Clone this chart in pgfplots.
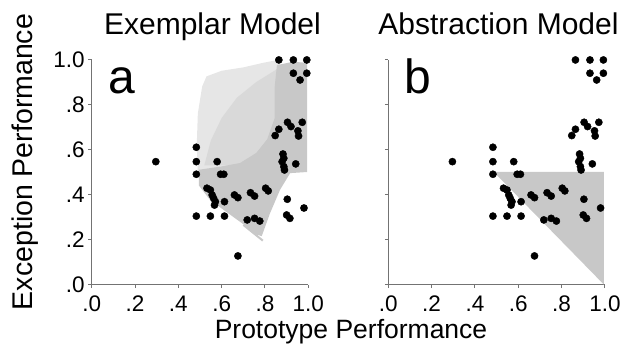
\documentclass[border=0pt]{standalone}
\usepackage{pgfplots}
\pgfplotsset{compat=1.18}
\usepackage{pgfplotstable}
\usepackage{fontspec}
\setmainfont{Liberation Sans}
\definecolor{dense}{RGB}{200,200,200}
\definecolor{medium}{RGB}{217,217,217}
\definecolor{sparse}{RGB}{230,230,230}
\definecolor{axgray}{RGB}{115,115,115}

\pgfplotstableread{
x y
0.296 0.546
0.483 0.610
0.483 0.546
0.579 0.546
0.483 0.490
0.595 0.490
0.610 0.490
0.532 0.428
0.548 0.420
0.556 0.398
0.563 0.383
0.571 0.368
0.567 0.353
0.613 0.368
0.659 0.398
0.675 0.386
0.483 0.304
0.548 0.304
0.613 0.304
0.675 0.127
0.733 0.408
0.752 0.393
0.803 0.428
0.815 0.416
0.903 0.379
0.980 0.340
0.900 0.309
0.915 0.294
0.718 0.287
0.752 0.294
0.776 0.282
0.883 0.580
0.887 0.561
0.879 0.546
0.942 0.536
0.887 0.524
0.890 0.509
0.864 0.998
0.931 0.998
0.993 0.998
0.931 0.939
0.993 0.939
0.962 0.909
0.847 0.662
0.864 0.690
0.904 0.721
0.920 0.702
0.972 0.721
0.952 0.683
0.955 0.660
}\human

\pgfplotstableread{
x y
0.49 0.50
0.485 0.62
0.49 0.76
0.51 0.88
0.53 0.925
0.60 0.95
0.70 0.965
0.79 0.985
0.87 1.0
0.87 0.75
0.70 0.52
}\exsparse

\pgfplotstableread{
x y
0.52 0.53
0.55 0.64
0.60 0.74
0.67 0.83
0.76 0.90
0.86 0.96
0.86 0.70
0.79 0.58
0.66 0.53
}\exmedium

\pgfplotstableread{
x y
0.495 0.51
0.60 0.525
0.685 0.54
0.76 0.585
0.81 0.645
0.845 0.74
0.845 0.88
0.855 0.975
0.93 0.99
0.995 0.985
0.995 0.50
0.916 0.495
0.869 0.42
0.823 0.316
0.785 0.215
0.75 0.225
0.716 0.257
0.654 0.30
0.546 0.376
0.495 0.44
}\exdense

\pgfplotstableread{
x y
0.70 0.265
0.79 0.195
}\extail

\pgfplotstableread{
x y
0.486 0.501
0.995 0.501
0.995 0.0
}\abdense

\pgfplotsset{panel/.style={
  anchor=south west, scale only axis, width=216.6pt, height=225pt,
  xmin=0, xmax=1, ymin=0, ymax=1,
  axis lines=left, axis line style={-, axgray, line width=1.2pt},
  tick style={axgray, line width=1pt}, tick align=outside, major tick length=3.5pt,
  xtick={0,0.2,0.4,0.6,0.8,1}, ytick={0,0.2,0.4,0.6,0.8,1},
  xticklabels={.0,.2,.4,.6,.8,1.0},
  tick label style={font=\fontsize{22.5}{22.5}\selectfont, black},
  xticklabel style={yshift=-4pt},
  clip=false,
}}

\begin{document}
\begin{tikzpicture}
\path[use as bounding box] (-91.7pt,-69.5pt) rectangle (531.3pt,284.5pt);
\begin{axis}[panel, at={(0pt,0pt)}, yticklabels={.0,.2,.4,.6,.8,1.0}]
\addplot[fill=sparse, draw=none] table {\exsparse};
\addplot[fill=medium, draw=none] table {\exmedium};
\addplot[fill=dense, draw=none] table {\exdense};
\addplot[dense, line width=2pt] table {\extail};
\addplot[only marks, mark=*, mark size=3.6pt, black] table {\human};
\end{axis}
\begin{axis}[panel, at={(296.6pt,0pt)}, yticklabels={}]
\addplot[fill=dense, draw=none] table {\abdense};
\addplot[only marks, mark=*, mark size=3.6pt, black] table {\human};
\end{axis}
\node[anchor=base west, font=\fontsize{48}{48}\selectfont] at (13pt,191.2pt) {a};
\node[anchor=base west, font=\fontsize{48}{48}\selectfont] at (309.6pt,191.2pt) {b};
\node[anchor=base, font=\fontsize{30}{30}\selectfont] at (120.8pt,249.5pt) {Exemplar Model};
\node[anchor=base, font=\fontsize{30}{30}\selectfont] at (406.8pt,249.5pt) {Abstraction Model};
\node[anchor=base, font=\fontsize{26.5}{26.5}\selectfont] at (259.3pt,-53.5pt) {Prototype Performance};
\node[anchor=base, rotate=90, font=\fontsize{28.5}{28.5}\selectfont] at (-58.7pt,122.5pt) {Exception Performance};
\end{tikzpicture}
\end{document}
